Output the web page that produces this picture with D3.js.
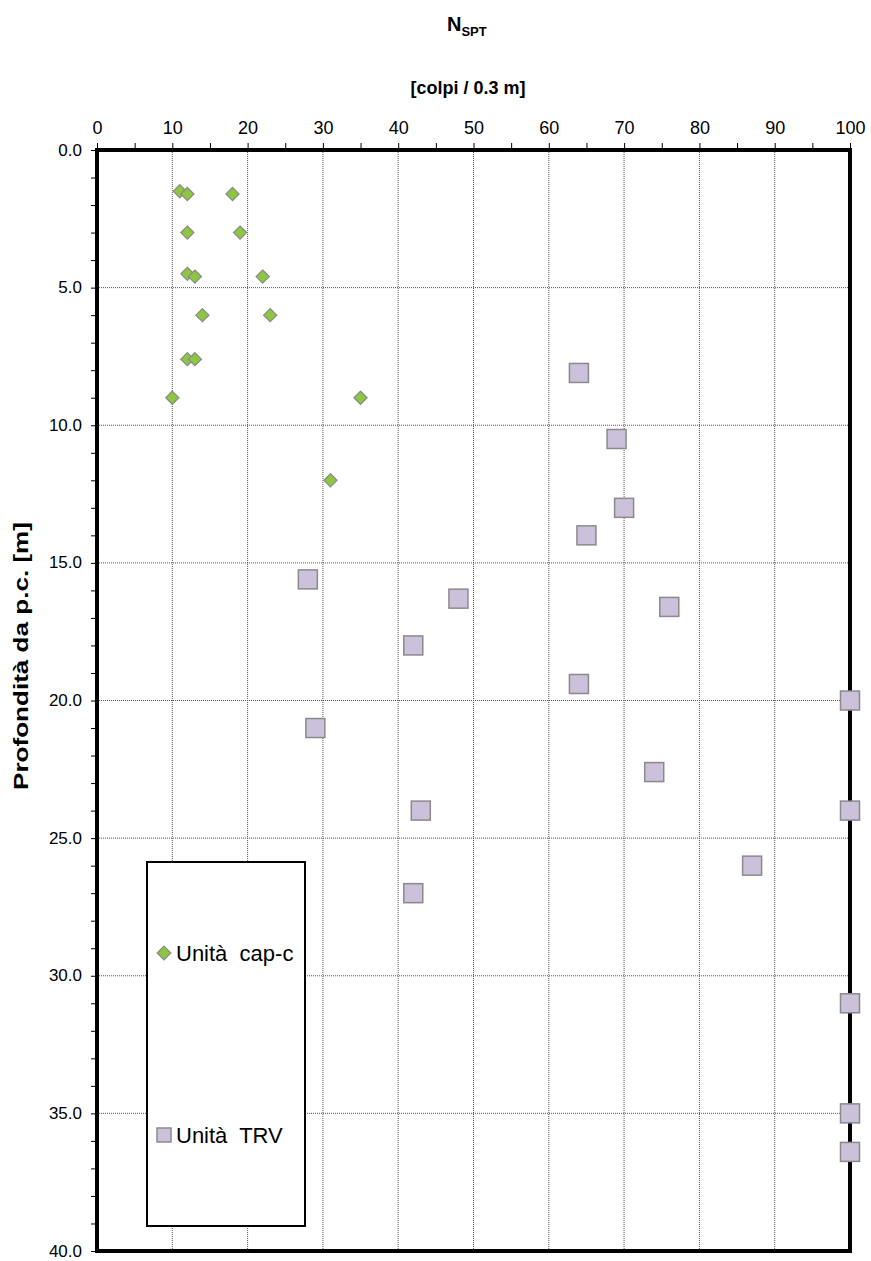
<!DOCTYPE html>
<html><head><meta charset="utf-8">
<script src="https://cdn.jsdelivr.net/npm/d3@7"></script>
<style>body{margin:0;background:#fff}svg{display:block;font-family:"Liberation Sans",Arial,sans-serif}</style>
</head><body><svg id="c" width="871" height="1261"></svg>
<script>
// Unità cap-c (green diamonds): N_SPT and depth [m]
const capN     = [11, 12, 18, 12, 19, 12, 13, 22, 14, 23, 12, 13, 10, 35, 31];
const capDepth = [1.5, 1.6, 1.6, 3.0, 3.0, 4.5, 4.6, 4.6, 6.0, 6.0, 7.6, 7.6, 9.0, 9.0, 12.0];
// Unità TRV (lilac squares)
const trvN     = [64, 69, 70, 65, 28, 48, 76, 42, 64, 100, 29, 74, 43, 100, 87, 42, 100, 100, 100];
const trvDepth = [8.1, 10.5, 13.0, 14.0, 15.6, 16.3, 16.6, 18.0, 19.4, 20.0, 21.0, 22.6, 24.0, 24.0, 26.0, 27.0, 31.0, 35.0, 36.4];
const xTicks = [0, 10, 20, 30, 40, 50, 60, 70, 80, 90, 100];
const yTicks = [0, 5, 10, 15, 20, 25, 30, 35, 40];
const seriesNames = ["Unità  cap-c", "Unità  TRV"];

const svg = d3.select("#c");
const L = 97, R = 850, T = 150, B = 1251;
const x = d3.scaleLinear().domain([0, 100]).range([L, R]);
const y = d3.scaleLinear().domain([0, 40]).range([T, B]);

// grid
svg.append("g").selectAll("line").data(xTicks.slice(1, -1)).join("line")
  .attr("x1", d => x(d)).attr("x2", d => x(d)).attr("y1", T).attr("y2", B)
  .attr("stroke", "#555").attr("stroke-width", 1).attr("stroke-dasharray", "1,1");
svg.append("g").selectAll("line").data(yTicks.slice(1, -1)).join("line")
  .attr("x1", L).attr("x2", R).attr("y1", d => y(d)).attr("y2", d => y(d))
  .attr("stroke", "#555").attr("stroke-width", 1).attr("stroke-dasharray", "1,1");

// axes (top and left) via d3 axes
const xAxis = svg.append("g").attr("transform", `translate(0,${T})`)
  .call(d3.axisTop(x).tickValues(d3.range(0, 101, 5)).tickSize(7).tickFormat(d => d % 10 === 0 ? d : ""));
xAxis.select(".domain").remove();
xAxis.selectAll("text").attr("font-size", 18).attr("fill", "#000").attr("y", -16)
  .attr("font-family", "Liberation Sans, Arial, sans-serif");
const yAxis = svg.append("g").attr("transform", `translate(${L},0)`)
  .call(d3.axisLeft(y).tickValues(d3.range(0, 41, 1)).tickSize(6).tickFormat(d => d % 5 === 0 ? d3.format(".1f")(d) : ""));
yAxis.select(".domain").remove();
yAxis.selectAll("text").attr("font-size", 17).attr("fill", "#000").attr("x", -15).attr("dy", "0.3em")
  .attr("font-family", "Liberation Sans, Arial, sans-serif");

// frame
svg.append("rect").attr("x", L).attr("y", T).attr("width", R - L).attr("height", B - T)
  .attr("fill", "none").attr("stroke", "#000").attr("stroke-width", 4);

// titles
const t1 = svg.append("text").attr("x", 447).attr("y", 31).attr("font-weight", "bold").attr("font-size", 20);
t1.append("tspan").text("N");
t1.append("tspan").attr("font-size", 13).attr("dy", 5).text("SPT");
svg.append("text").attr("x", 468).attr("y", 94).attr("text-anchor", "middle").attr("font-weight", "bold")
  .attr("font-size", 18).text("[colpi / 0.3 m]");
svg.append("text").attr("transform", "translate(28,656) rotate(-90)").attr("text-anchor", "middle")
  .attr("font-weight", "bold").attr("font-size", 21).attr("textLength", 268).attr("lengthAdjust", "spacingAndGlyphs")
  .text("Profondità da p.c. [m]");

// legend
const lg = svg.append("g");
lg.append("rect").attr("x", 147).attr("y", 862).attr("width", 158).attr("height", 364)
  .attr("fill", "#fff").attr("stroke", "#000").attr("stroke-width", 2);
const diamond = d3.symbol().type(d3.symbolDiamond2);
lg.append("path").attr("d", diamond.size(120)()).attr("transform", "translate(164,953)")
  .attr("fill", "#8DC63F").attr("stroke", "#8a8a8a").attr("stroke-width", 1.2);
lg.append("rect").attr("x", 157).attr("y", 1128).attr("width", 14).attr("height", 14)
  .attr("fill", "#CCC1DA").attr("stroke", "#8a8a8a").attr("stroke-width", 1.5);
lg.append("text").attr("x", 176).attr("y", 961).attr("font-size", 22).style("white-space", "pre").text(seriesNames[0]);
lg.append("text").attr("x", 176).attr("y", 1143).attr("font-size", 22).style("white-space", "pre").text(seriesNames[1]);

// points
const capData = capN.map((n, i) => ({ n, d: capDepth[i] }));
const trvData = trvN.map((n, i) => ({ n, d: trvDepth[i] }));
svg.append("g").selectAll("rect").data(trvData).join("rect")
  .attr("x", d => x(d.n) - 9.5).attr("y", d => y(d.d) - 9.5).attr("width", 19).attr("height", 19)
  .attr("fill", "#CCC1DA").attr("stroke", "#8a8a8a").attr("stroke-width", 1.5);
svg.append("g").selectAll("path").data(capData).join("path")
  .attr("d", diamond.size(110)())
  .attr("transform", d => `translate(${x(d.n)},${y(d.d)})`)
  .attr("fill", "#8DC63F").attr("stroke", "#8a8a8a").attr("stroke-width", 1.2);
</script></body></html>
